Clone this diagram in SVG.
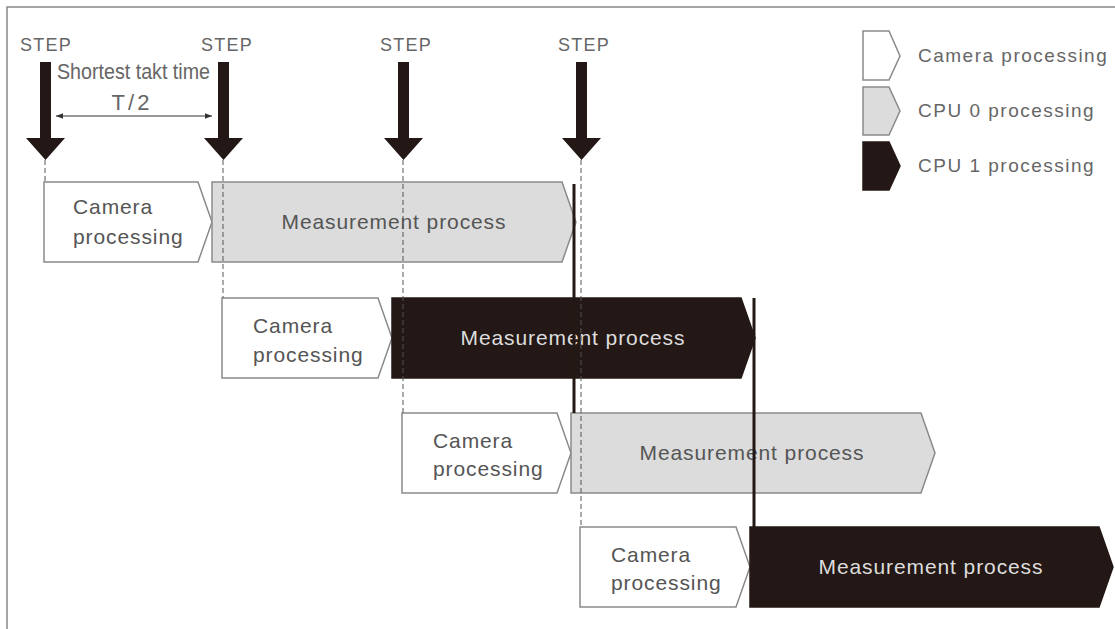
<svg xmlns="http://www.w3.org/2000/svg" width="1115" height="629" viewBox="0 0 1115 629">
<style>
text{font-family:"Liberation Sans",Arial,sans-serif;}
.step{font-size:18px;fill:#666;letter-spacing:1.2px;text-anchor:middle;}
.lbl{font-size:21px;fill:#555;letter-spacing:0.9px;}
.lblw{font-size:21px;fill:#ddd;letter-spacing:0.9px;text-anchor:middle;}
.lblg{font-size:21px;fill:#555;letter-spacing:0.9px;text-anchor:middle;}
.leg{font-size:19px;fill:#666;letter-spacing:1.5px;}
.cam{fill:#fff;stroke:#8a8a8a;stroke-width:1.5;}
.cpu0{fill:#dcdcdc;stroke:#8a8a8a;stroke-width:1.5;}
.cpu1{fill:#231815;stroke:#231815;stroke-width:1.5;}
.dash{stroke:#555;stroke-width:1;stroke-dasharray:5 3;fill:none;}
.thick{stroke:#231815;stroke-width:3;}
.arrow{fill:#231815;}
</style>
<defs>
<marker id="ah" viewBox="0 0 10 10" refX="10" refY="5" markerWidth="7" markerHeight="7" orient="auto-start-reverse" markerUnits="userSpaceOnUse">
<path d="M0,1 L10,5 L0,9 Z" fill="#333"/>
</marker>
</defs>
<rect width="1115" height="629" fill="#fff"/>
<path d="M7,629 L7,7 L1115,7" fill="none" stroke="#888" stroke-width="1.5"/>

<g id="steps">
<text class="step" x="46" y="51">STEP</text>
<text class="step" x="227" y="51">STEP</text>
<text class="step" x="406" y="51">STEP</text>
<text class="step" x="584" y="51">STEP</text>
<polygon class="arrow" points="40,62 51,62 51,138 65,138 45.5,160 26,138 40,138"/>
<polygon class="arrow" points="218,62 229,62 229,138 243,138 223.5,160 204,138 218,138"/>
<polygon class="arrow" points="398,62 409,62 409,138 423,138 403.5,160 384,138 398,138"/>
<polygon class="arrow" points="576,62 587,62 587,138 601,138 581.5,160 562,138 576,138"/>
</g>

<g id="takt">
<text x="57" y="79" font-size="22" fill="#666" textLength="153" lengthAdjust="spacingAndGlyphs">Shortest takt time</text>
<text x="132" y="110" font-size="22" fill="#666" letter-spacing="3" text-anchor="middle">T/2</text>
</g>

<g id="row1">
<polygon class="cam" points="44,182 198,182 212,222 198,262 44,262"/>
<text class="lbl" x="73" y="214">Camera</text>
<text class="lbl" x="73" y="244">processing</text>
<polygon class="cpu0" points="212,182 562,182 576,222 562,262 212,262"/>
<text class="lblg" x="394" y="229">Measurement process</text>
</g>
<g id="row2">
<polygon class="cam" points="222,298 378,298 392,338 378,378 222,378"/>
<text class="lbl" x="253" y="333">Camera</text>
<text class="lbl" x="253" y="362">processing</text>
<polygon class="cpu1" points="392,298 741,298 755,338 741,378 392,378"/>
<text class="lblw" x="573" y="345">Measurement process</text>
</g>
<g id="row3">
<polygon class="cam" points="402,413 557,413 571,453 557,493 402,493"/>
<text class="lbl" x="433" y="448">Camera</text>
<text class="lbl" x="433" y="476">processing</text>
<polygon class="cpu0" points="571,413 921,413 935,453 921,493 571,493"/>
<text class="lblg" x="752" y="460">Measurement process</text>
</g>
<g id="row4">
<polygon class="cam" points="580,527 736,527 750,567 736,607 580,607"/>
<text class="lbl" x="611" y="562">Camera</text>
<text class="lbl" x="611" y="590">processing</text>
<polygon class="cpu1" points="750,527 1099,527 1113,567 1099,607 750,607"/>
<text class="lblw" x="931" y="574">Measurement process</text>
</g>

<g id="connectors">
<line class="dash" x1="45" y1="160" x2="45" y2="182"/>
<line class="dash" x1="223" y1="160" x2="223" y2="298"/>
<line class="dash" x1="403" y1="160" x2="403" y2="413"/>
<line class="dash" x1="581" y1="160" x2="581" y2="527"/>
<line class="thick" x1="574" y1="184" x2="574" y2="413"/>
<line class="thick" x1="754" y1="298" x2="754" y2="527"/>
<line x1="56" y1="116" x2="212" y2="116" stroke="#333" stroke-width="1" marker-start="url(#ah)" marker-end="url(#ah)"/>
</g>

<g id="legend">
<polygon class="cam" points="863,31 889,31 900,56 889,80 863,80"/>
<text class="leg" x="918" y="62">Camera processing</text>
<polygon class="cpu0" points="863,87 889,87 900,111 889,135 863,135"/>
<text class="leg" x="918" y="117">CPU 0 processing</text>
<polygon class="cpu1" points="863,142 889,142 900,166 889,190 863,190"/>
<text class="leg" x="918" y="172">CPU 1 processing</text>
</g>
</svg>
